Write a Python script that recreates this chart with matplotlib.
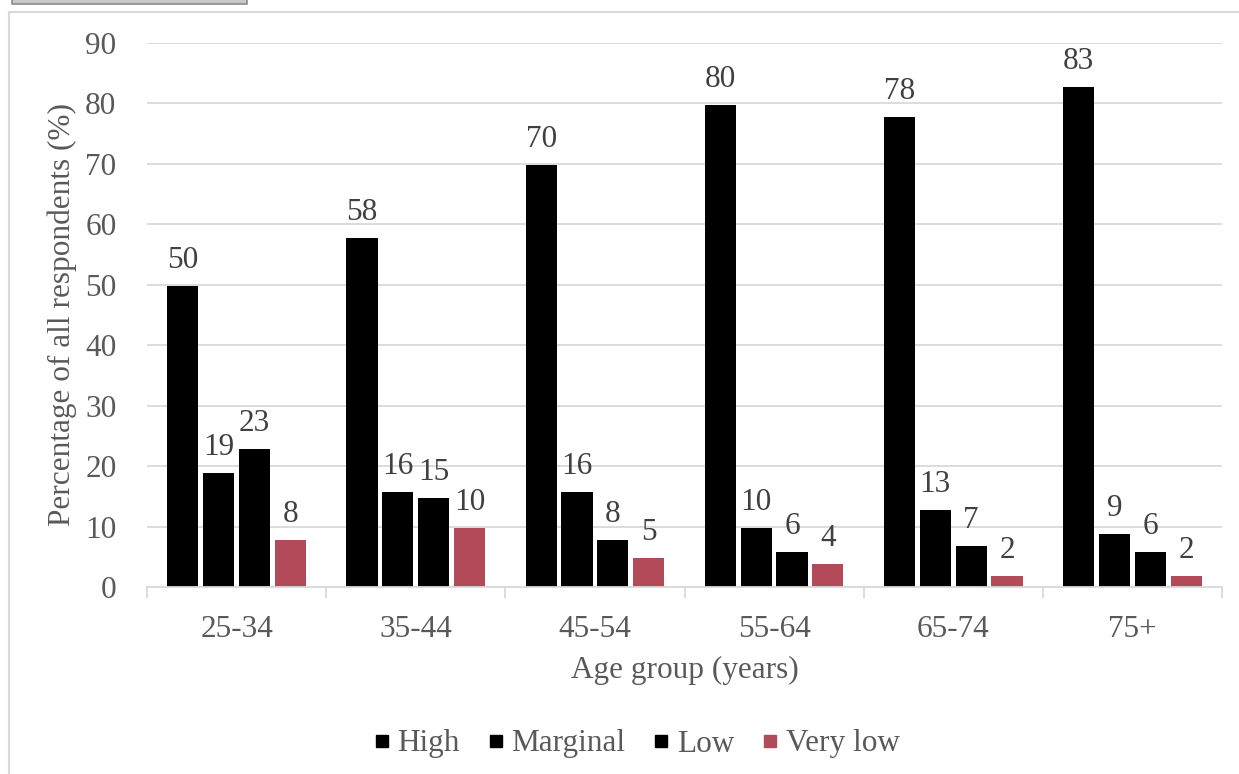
import matplotlib
matplotlib.use("Agg")
import matplotlib.pyplot as plt
import numpy as np
from matplotlib.patches import Rectangle
from matplotlib.lines import Line2D

categories = ["25-34", "35-44", "45-54", "55-64", "65-74", "75+"]
series = ["High", "Marginal", "Low", "Very low"]
high = [49.8, 57.7, 69.8, 79.7, 77.7, 82.7]
marginal = [18.8, 15.7, 15.7, 9.8, 12.7, 8.8]
low = [22.8, 14.7, 7.8, 5.8, 6.8, 5.8]
very_low = [7.8, 9.8, 4.8, 3.8, 1.8, 1.8]
labels_high = [50, 58, 70, 80, 78, 83]
labels_marginal = [19, 16, 16, 10, 13, 9]
labels_low = [23, 15, 8, 6, 7, 6]
labels_very_low = [8, 10, 5, 4, 2, 2]
yticks = [0, 10, 20, 30, 40, 50, 60, 70, 80, 90]

colors = ["#000000", "#000000", "#000000", "#b24a59"]
txt = "#595959"
fs = 22.5

plt.rcParams['font.family'] = ['Liberation Serif', 'DejaVu Serif']

fig = plt.figure(figsize=(12.39, 7.74), dpi=100)
ax = fig.add_axes([147/1239, 1-587/774, (1222-147)/1239, (587-43)/774])

x = np.arange(len(categories))
step = 0.2
w = 0.174
data = [high, marginal, low, very_low]
labs = [labels_high, labels_marginal, labels_low, labels_very_low]
for i, (vals, lv, c, name) in enumerate(zip(data, labs, colors, series)):
    pos = x + (i - 1.5) * step
    bars = ax.bar(pos, vals, width=w, color=c, linewidth=0, label=name, zorder=3)
    for b, l in zip(bars, lv):
        ax.annotate(str(l), (b.get_x() + b.get_width()/2, b.get_height()),
                    xytext=(0, 8), textcoords="offset points", ha="center", va="bottom",
                    fontsize=fs, color="#404040", zorder=4)

ax.set_xlim(-0.5, len(categories) - 0.5)
ax.set_ylim(0, 90)
ax.set_yticks(yticks)
ax.yaxis.grid(True, color="#d9d9d9", linewidth=1.3, zorder=0)
ax.set_axisbelow(True)
for s in ["top", "right", "left"]:
    ax.spines[s].set_visible(False)
ax.spines["bottom"].set_color("#d9d9d9")
ax.spines["bottom"].set_linewidth(1.3)
ax.spines["bottom"].set_zorder(5)
ax.set_xticks(x)
ax.set_xticklabels(categories)
ax.set_xticks(np.arange(-0.5, len(categories)), minor=True)
ax.tick_params(axis="x", which="major", length=0, pad=20.5, labelsize=fs, labelcolor=txt)
ax.tick_params(axis="x", which="minor", length=8, width=1.3, color="#d9d9d9")
ax.tick_params(axis="y", length=0, pad=22, labelsize=fs, labelcolor=txt)
ax.set_xlabel("Age group (years)", fontsize=fs, color=txt, labelpad=8)
ax.set_ylabel("Percentage of all respondents (%)", fontsize=fs, color=txt, labelpad=6)

handles = [Line2D([], [], marker="s", linestyle="none", markersize=9, color=c) for c in colors]
fig.legend(handles, series, loc="center", bbox_to_anchor=(636/1239, 1-744/774), ncol=4, frameon=False,
           fontsize=fs, labelcolor=txt, handlelength=0.6, handletextpad=0.2, columnspacing=0.85)

# chart border and tab
fig.add_artist(Line2D([9/1239, 9/1239], [0, 1-12/774], color="#d9d9d9", linewidth=1.5, transform=fig.transFigure))
fig.add_artist(Line2D([9/1239, 1], [1-12/774, 1-12/774], color="#d9d9d9", linewidth=1.5, transform=fig.transFigure))
fig.add_artist(Rectangle((12/1239, 1-4/774), (247-12)/1239, 6/774, transform=fig.transFigure,
                         facecolor="#c8c8c8", edgecolor="#8c8c8c", linewidth=1.2))

fig.savefig("out.png", dpi=100)
